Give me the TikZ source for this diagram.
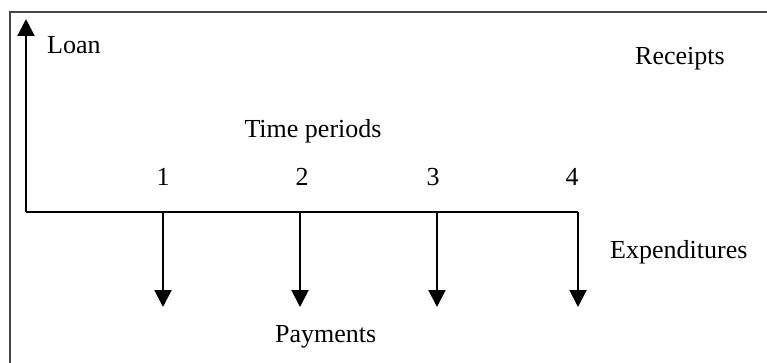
\documentclass[tikz,border=0pt]{standalone}
\usepackage{fontspec}
\setmainfont{Liberation Serif}
\usetikzlibrary{arrows.meta}
\begin{document}
\begin{tikzpicture}[x=1pt,y=-1pt,
  lbl/.style={anchor=base,inner sep=0pt,font=\fontsize{26}{30}\selectfont},
  flow/.style={line width=2pt,-{Triangle[length=17pt,width=17pt]}},
  axisline/.style={line width=2pt},
  frame/.style={draw=black!72,line width=2.5pt}]
\useasboundingbox (0,0) rectangle (767,363);
\clip (0,0) rectangle (767,363);
\draw[frame] (10,12) rectangle (800,400);
% coordinates
\coordinate (o) at (26,212);
\coordinate (t) at (26,19);
\coordinate (e) at (578,212);
\coordinate (p1) at (163,212);
\coordinate (p2) at (300,212);
\coordinate (p3) at (437,212);
\coordinate (p4) at (578,212);
\coordinate (d1) at (163,307);
\coordinate (d2) at (300,307);
\coordinate (d3) at (437,307);
\coordinate (d4) at (578,307);
% axes
\draw[flow] (o) -- (t);
\draw[axisline] (o) -- (e);
\draw[flow] (p1) -- (d1);
\draw[flow] (p2) -- (d2);
\draw[flow] (p3) -- (d3);
\draw[flow] (p4) -- (d4);
% labels
\node[lbl,anchor=base west] (loan) at (47,54) {Loan};
\node[lbl] (rec) at (680,65) {Receipts};
\node[lbl] (tp) at (313,138) {Time periods};
\node[lbl] (n1) at (163,186) {1};
\node[lbl] (n2) at (302,186) {2};
\node[lbl] (n3) at (433,186) {3};
\node[lbl] (n4) at (572,186) {4};
\node[lbl,anchor=base west] (exp) at (610,258) {Expenditures};
\node[lbl,anchor=base west] (pay) at (275,342) {Payments};
\end{tikzpicture}
\end{document}
